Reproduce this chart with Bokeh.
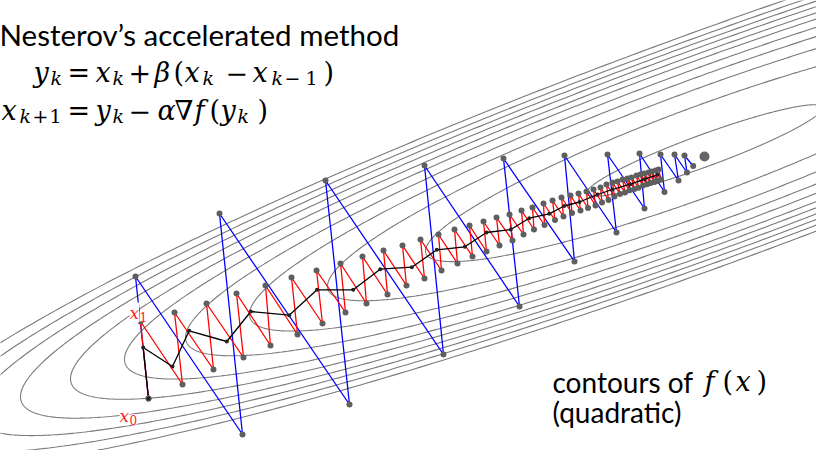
import numpy as np
from bokeh.plotting import figure
from bokeh.models import Range1d, Label
from bokeh.embed import file_html
from bokeh.resources import INLINE

# ---- data (screen-pixel coordinates) ----
contour_center_x = 712
contour_center_y = 158
contour_tilt = -0.36
contour_half_width = [118, 279, 377, 455, 519, 580, 634, 684, 730, 773, 814]
contour_half_height = [17, 47.5, 64.5, 76, 85, 93, 99, 105, 110.5, 116, 122]

start_x, start_y = 156, 406
minimum_x, minimum_y = 712, 164

# gradient descent (red): x0, then alternating upper / lower iterates
red_top_x = [148, 182, 214, 244, 273, 299, 324, 348, 370, 391, 410, 428, 446, 462, 477,
             491, 504, 517, 529, 540, 551, 560, 569, 578, 586, 594, 601, 608, 614, 620,
             625, 630, 635, 639, 644, 648, 652, 656, 659, 663, 666]
red_top_y = [329, 320, 311, 301, 293, 285, 278, 271, 264, 258, 253, 247, 242, 237, 233,
             229, 225, 222, 218, 215, 211, 208, 205, 203, 201, 199, 197, 195, 192, 190,
             189, 187, 186, 185, 183, 182, 181, 180, 179, 178, 177]
red_bottom_x = [190, 221, 251, 278, 305, 330, 353, 374, 395, 414, 432, 449, 465, 480, 494,
                507, 520, 531, 541.5, 552, 562.5, 571, 579.5, 588, 595.5, 603, 609.5, 616,
                622, 627.5, 632.5, 637, 642, 646, 650.5, 654.5, 658, 662, 665, 668.5]
red_bottom_y = [392, 377, 365, 353, 342, 331, 320, 311, 302, 293, 286, 278, 271, 264, 259,
                253, 248, 242, 237, 232.5, 227.5, 224, 220.5, 218, 215.5, 213, 210, 207.5,
                204, 201.5, 200, 197.8, 196.5, 195.2, 193, 191.8, 190.6, 189.4, 188.2, 187]

# large-step method (blue)
blue_x = [156, 143, 250, 227, 357, 333, 451, 432, 527, 511, 582, 572, 624, 615, 652, 647,
          672, 668, 686, 682, 694.5, 692, 700.7]
blue_y = [406, 284, 442, 221, 412, 188, 362, 173, 314, 166, 269, 163, 240, 162, 216, 161,
          199.5, 162, 188, 162, 180, 163, 173.5]

# Nesterov iterates (black)
black_x = [156, 150.7, 180, 196.7, 234.3, 258.3, 296.7, 324.5, 360.7, 387.7, 419.3, 444.3,
           472.3, 494, 518.3, 536.7, 556.7, 571.7, 587, 605, 620, 638, 652, 665]
black_y = [406, 355, 374, 338.3, 349, 319, 322.7, 297.3, 297.3, 276.7, 274.7, 257.3,
           254.3, 240, 237, 225.7, 221.3, 213.5, 209.5, 202, 197, 191.7, 186.7, 182.3]

# ---- build red path ----
red_x = [start_x]
red_y = [start_y]
for i in range(len(red_bottom_x)):
    red_x += [red_top_x[i], red_bottom_x[i]]
    red_y += [red_top_y[i], red_bottom_y[i]]
red_x.append(red_top_x[-1])
red_y.append(red_top_y[-1])

p = figure(width=816, height=450, x_range=Range1d(8, 824), y_range=Range1d(458, 8),
           output_backend="svg", toolbar_location=None, min_border=0,
           x_axis_location=None, y_axis_location=None)
p.grid.visible = False
p.outline_line_color = None
p.background_fill_color = "white"

# contours
phi = np.linspace(0, 2 * np.pi, 721)
cxs, cys = [], []
for t, c in zip(contour_half_width, contour_half_height):
    u = t * np.cos(phi)
    cxs.append(contour_center_x + u)
    cys.append(contour_center_y + contour_tilt * u + c * np.sin(phi))
p.multi_line(cxs, cys, line_color="#7a7a7a", line_width=1.1)

p.line(blue_x, blue_y, line_color="#0000ff", line_width=1.3)
p.line(red_x, red_y, line_color="#ff0000", line_width=1.3)
p.line(black_x, black_y, line_color="#000000", line_width=1.3)

p.scatter(blue_x, blue_y, size=6, fill_color="#5f5f5f", line_color=None)
p.scatter(red_x, red_y, size=6, fill_color="#5f5f5f", line_color=None)
p.scatter(black_x, black_y, size=4, fill_color="#222222", line_color=None)
p.scatter([minimum_x], [minimum_y], size=10, fill_color="#666666", line_color=None)

# ---- texts ----
MF = "'DejaVu Serif', serif"


def lab(text, x, y, size, font=MF, style="italic", color="black", bg=None):
    kw = dict(x=x, y=y, text=text, text_font=font, text_font_size=size,
              text_font_style=style, text_color=color, text_baseline="alphabetic",
              text_align="left")
    if bg:
        kw["background_fill_color"] = bg
    p.add_layout(Label(**kw))


lab("Nesterov\u2019s accelerated method", 7, 41.5, "29.5px", font="Lato", style="normal")

M, S = "27px", "19px"
b1, s1 = 80, 85
runs1 = [("y", 41, b1, M, "italic"), ("k", 58, s1, S, "italic"),
         ("=", 75, b1, M, "normal"), ("x", 103, b1, M, "italic"), ("k", 120, s1, S, "italic"),
         ("+", 136, b1, M, "normal"), ("\u03b2", 162, b1, M, "italic"),
         ("(", 181, b1, M, "normal"), ("x", 192, b1, M, "italic"), ("k", 210, s1, S, "italic"),
         ("\u2212", 233, b1, M, "normal"), ("x", 260, b1, M, "italic"),
         ("k", 279, s1, S, "italic"), ("\u2212", 292, s1, S, "normal"), ("1", 313, s1, S, "normal"),
         (")", 331, b1, M, "normal")]
b2, s2 = 118, 123
runs2 = [("x", 9, b2, M, "italic"), ("k", 27, s2, S, "italic"), ("+", 40, s2, S, "normal"),
         ("1", 57, s2, S, "normal"),
         ("=", 75, b2, M, "normal"), ("y", 103, b2, M, "italic"), ("k", 120, s2, S, "italic"),
         ("\u2212", 136, b2, M, "normal"), ("\u03b1", 165, b2, M, "italic"),
         ("\u2207", 182, b2, M, "normal"), ("f", 202, b2, M, "italic"),
         ("(", 217, b2, M, "normal"), ("y", 228, b2, M, "italic"), ("k", 245, s2, S, "italic"),
         (")", 265, b2, M, "normal")]
for txt, x, y, sz, st in runs1 + runs2:
    lab(txt, x, y, sz, style=st)

# start labels
lab("x", 127, 423, "17px", color="#ff2020", bg="white")
lab("0", 137, 427, "12px", style="normal", color="#ff2020", bg="white")
lab("x", 137, 320, "17px", color="#ff2020", bg="white")
lab("1", 147, 324, "12px", style="normal", color="#ff2020", bg="white")

lab("contours of", 560, 389, "28px", font="Lato", style="normal")
lab("f", 712, 389, "27px")
lab("(", 730, 389, "27px", style="normal")
lab("x", 743, 389, "27px")
lab(")", 764, 389, "27px", style="normal")
lab("(quadratic)", 560, 419, "28px", font="Lato", style="normal")

open("out.html", "w").write(file_html(p, INLINE))
